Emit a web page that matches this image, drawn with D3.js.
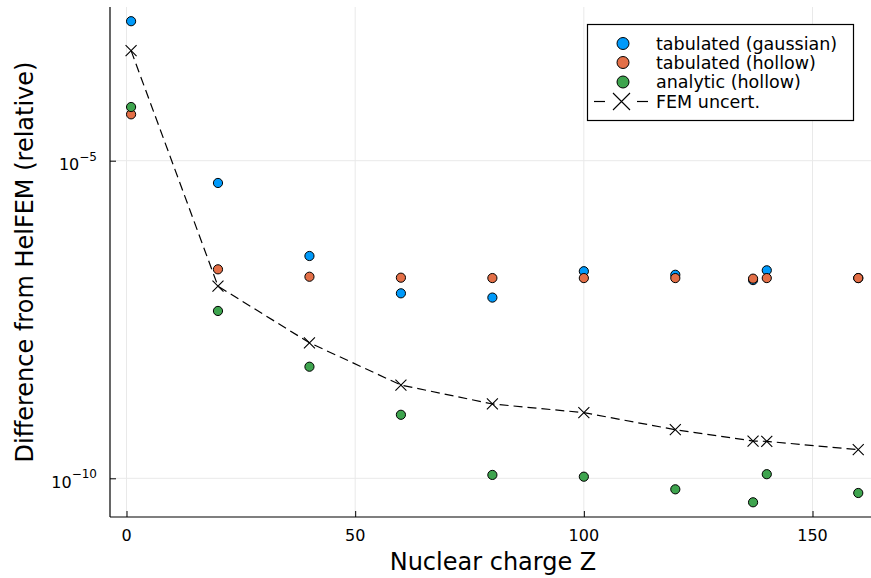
<!DOCTYPE html>
<html>
<head>
<meta charset="utf-8">
<script src="https://cdn.jsdelivr.net/npm/d3@7"></script>
<style>
  html, body { margin: 0; padding: 0; background: #fff; }
  svg { display: block; font-family: "DejaVu Sans", sans-serif; }
</style>
</head>
<body>
<svg id="chart" width="871" height="578"></svg>
<script>
// Nuclear charges
const charges = [1, 20, 40, 60, 80, 100, 120, 137, 140, 160];

// Relative differences from HelFEM
const tabulatedGaussian = [1.57e-3, 4.46e-6, 3.16e-7, 8.17e-8, 7.0e-8, 1.82e-7, 1.60e-7, 1.32e-7, 1.88e-7, 1.42e-7];
const tabulatedHollow   = [5.37e-5, 1.95e-7, 1.49e-7, 1.44e-7, 1.42e-7, 1.42e-7, 1.42e-7, 1.39e-7, 1.42e-7, 1.42e-7];
const analyticHollow    = [7.00e-5, 4.31e-8, 5.71e-9, 1.00e-9, 1.13e-10, 1.06e-10, 6.71e-11, 4.19e-11, 1.16e-10, 5.87e-11];
const femUncert         = [5.40e-4, 1.06e-7, 1.36e-8, 2.94e-9, 1.48e-9, 1.08e-9, 5.82e-10, 3.86e-10, 3.82e-10, 2.82e-10];

const seriesNames = ["tabulated (gaussian)", "tabulated (hollow)", "analytic (hollow)", "FEM uncert."];
const seriesColors = ["#009AFA", "#E36F47", "#3EA44E", "#000000"];

const xTicks = [0, 50, 100, 150];
const yTicks = [1e-5, 1e-10];

const svg = d3.select("#chart");
const plotLeft = 110, plotRight = 877, plotTop = 7, plotBottom = 517;

const x = d3.scaleLinear().domain([-3.61, 164.1]).range([plotLeft, plotRight]);
// 1e-5 sits at 160.7 px, 1e-10 at 478.3 px
const pxPerDecade = (478.3 - 160.7) / 5;
const yTopExp = -5 + (160.7 - plotTop) / pxPerDecade;
const yBotExp = -10 - (plotBottom - 478.3) / pxPerDecade;
const y = d3.scaleLog().domain([Math.pow(10, yBotExp), Math.pow(10, yTopExp)]).range([plotBottom, plotTop]);

// grid
const grid = svg.append("g").attr("stroke", "#e9e9e9").attr("stroke-width", 1);
xTicks.forEach(t => grid.append("line")
  .attr("x1", x(t)).attr("x2", x(t)).attr("y1", plotTop).attr("y2", plotBottom));
yTicks.forEach(t => grid.append("line")
  .attr("x1", plotLeft).attr("x2", plotRight).attr("y1", y(t)).attr("y2", y(t)));

// axes (ticks pointing inward)
const xAxis = d3.axisTop(x).tickValues(xTicks).tickSize(6).tickFormat("");
svg.append("g").attr("transform", `translate(0,${plotBottom})`).call(xAxis)
  .call(g => g.select(".domain").remove())
  .call(g => g.selectAll("line").attr("stroke", "#000"));
const yAxis = d3.axisRight(y).tickValues(yTicks).tickSize(6).tickFormat("");
svg.append("g").attr("transform", `translate(${plotLeft},0)`).call(yAxis)
  .call(g => g.select(".domain").remove())
  .call(g => g.selectAll("line").attr("stroke", "#000"));

svg.append("line").attr("x1", plotLeft).attr("x2", plotLeft)
  .attr("y1", plotTop).attr("y2", plotBottom).attr("stroke", "#000").attr("stroke-width", 1.2);
svg.append("line").attr("x1", plotLeft).attr("x2", plotRight)
  .attr("y1", plotBottom).attr("y2", plotBottom).attr("stroke", "#000").attr("stroke-width", 1.2);

// tick labels
svg.append("g").selectAll("text").data(xTicks).join("text")
  .attr("x", d => x(d)).attr("y", 541)
  .attr("text-anchor", "middle").attr("font-size", 16).attr("fill", "#000")
  .text(d => d);

const yLab = svg.append("g").selectAll("text").data(yTicks).join("text")
  .attr("x", 97).attr("y", d => y(d) + 9.3)
  .attr("text-anchor", "end").attr("font-size", 16).attr("fill", "#000");
yLab.append("tspan").text("10");
yLab.append("tspan").attr("font-size", 12).attr("dy", -9.3)
  .text(d => "\u2212" + Math.round(-Math.log10(d)));

// axis titles
svg.append("text").attr("x", 493).attr("y", 570).attr("text-anchor", "middle")
  .attr("font-size", 24).attr("fill", "#000").text("Nuclear charge Z");
svg.append("text").attr("transform", `translate(33,${(plotTop + plotBottom) / 2}) rotate(-90)`)
  .attr("text-anchor", "middle").attr("font-size", 24).attr("fill", "#000")
  .text("Difference from HelFEM (relative)");

// scatter series
const plot = svg.append("g");
const scatterSeries = [tabulatedGaussian, tabulatedHollow, analyticHollow];
scatterSeries.forEach((vals, i) => {
  plot.append("g").selectAll("circle").data(vals).join("circle")
    .attr("cx", (d, j) => x(charges[j])).attr("cy", d => y(d)).attr("r", 4.6)
    .attr("fill", seriesColors[i]).attr("stroke", "#000").attr("stroke-width", 1);
});

// FEM uncertainty: dashed line with x markers
const line = d3.line().x((d, j) => x(charges[j])).y(d => y(d));
plot.append("path").datum(femUncert).attr("d", line)
  .attr("fill", "none").attr("stroke", "#000").attr("stroke-width", 1.2)
  .attr("stroke-dasharray", "9,5");
const crossSize = 5.5;
const cross = (cx, cy, s) => `M${cx - s},${cy - s}L${cx + s},${cy + s}M${cx - s},${cy + s}L${cx + s},${cy - s}`;
plot.append("g").selectAll("path").data(femUncert).join("path")
  .attr("d", (d, j) => cross(x(charges[j]), y(d), crossSize))
  .attr("stroke", "#000").attr("stroke-width", 1.1).attr("fill", "none");

// legend
const legend = svg.append("g");
legend.append("rect").attr("x", 587.5).attr("y", 24.5).attr("width", 266).attr("height", 96)
  .attr("fill", "#fff").attr("stroke", "#000").attr("stroke-width", 1.2);
const rowY = [43.5, 62.5, 82, 101.5];
seriesNames.forEach((name, i) => {
  if (i < 3) {
    legend.append("circle").attr("cx", 623).attr("cy", rowY[i]).attr("r", 6)
      .attr("fill", seriesColors[i]).attr("stroke", "#000").attr("stroke-width", 1);
  } else {
    [[594, 605], [637, 648]].forEach(([a, b]) => legend.append("line")
      .attr("x1", a).attr("x2", b).attr("y1", rowY[i]).attr("y2", rowY[i])
      .attr("stroke", "#000").attr("stroke-width", 1.2));
    legend.append("path").attr("d", cross(621.5, rowY[i], 8.5))
      .attr("stroke", "#000").attr("stroke-width", 1.1).attr("fill", "none");
  }
  legend.append("text").attr("x", 656).attr("y", rowY[i] + 6)
    .attr("font-size", 17.5).attr("fill", "#000").text(name);
});
</script>
</body>
</html>
